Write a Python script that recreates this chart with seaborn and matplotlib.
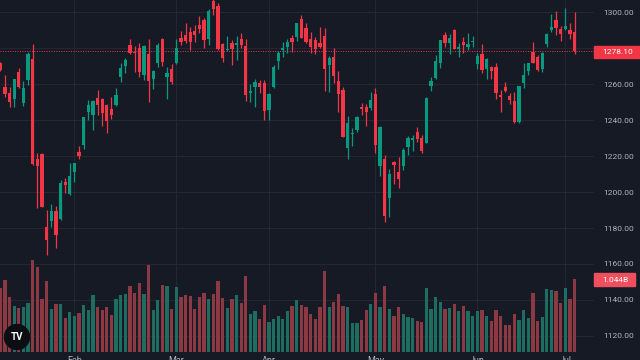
import numpy as np
import pandas as pd
import matplotlib
matplotlib.use("Agg")
import matplotlib.pyplot as plt
import seaborn as sns
from matplotlib.patches import Rectangle, Ellipse

# daily OHLC
opens = [1271.9, 1258.5, 1255.2, 1251.7, 1266.7, 1249.6, 1262.2, 1273.9, 1218.1, 1221.1,
         1180.4, 1184.1, 1189.6, 1185.2, 1205.7, 1198.7, 1211.1, 1222.0, 1226.1, 1244.6,
         1243.0, 1252.4, 1251.7, 1248.1, 1246.1, 1248.1, 1264.1, 1270.0, 1281.7, 1278.0,
         1280.2, 1265.0, 1276.5, 1262.8, 1271.9, 1284.8, 1264.1, 1268.3, 1271.5, 1285.6,
         1287.2, 1288.7, 1289.4, 1292.8, 1295.6, 1284.8, 1306.1, 1303.5, 1282.0, 1278.9,
         1283.0, 1281.7, 1285.0, 1281.1, 1255.2, 1258.5, 1260.7, 1260.4, 1245.6, 1258.1,
         1272.8, 1278.7, 1280.7, 1285.7, 1286.3, 1295.9, 1291.3, 1284.8, 1284.3, 1283.0,
         1286.7, 1270.6, 1275.2, 1261.7, 1256.7, 1224.6, 1232.4, 1234.4, 1247.4, 1247.0,
         1246.9, 1254.4, 1214.6, 1218.3, 1196.7, 1216.5, 1211.1, 1214.4, 1225.2, 1229.1,
         1233.5, 1230.0, 1227.4, 1258.9, 1263.1, 1271.9, 1287.4, 1283.0, 1290.0, 1279.4,
         1283.3, 1280.7, 1283.3, 1270.9, 1276.7, 1268.1, 1269.6, 1269.6, 1254.1, 1258.1,
         1253.3, 1250.7, 1239.1, 1260.7, 1267.4, 1278.0, 1275.2, 1268.1, 1282.2, 1289.8,
         1295.6, 1290.4, 1290.4, 1290.0, 1288.7]
highs = [1272.5, 1265.0, 1258.1, 1263.0, 1268.9, 1261.9, 1278.0, 1282.2, 1221.9, 1221.5,
         1190.0, 1193.3, 1192.2, 1206.7, 1208.0, 1215.9, 1216.3, 1225.6, 1241.9, 1251.1,
         1251.1, 1256.7, 1252.0, 1248.9, 1252.6, 1257.8, 1271.9, 1274.3, 1285.0, 1281.1,
         1283.0, 1281.7, 1285.0, 1267.6, 1282.6, 1285.6, 1269.3, 1271.1, 1284.8, 1289.4,
         1294.1, 1291.9, 1292.8, 1297.8, 1296.5, 1301.5, 1307.0, 1305.2, 1283.0, 1286.7,
         1284.4, 1286.9, 1288.1, 1284.8, 1260.0, 1262.8, 1262.2, 1262.2, 1254.8, 1270.4,
         1278.3, 1283.3, 1285.0, 1287.2, 1294.1, 1298.3, 1293.7, 1288.7, 1286.3, 1291.5,
         1291.1, 1275.6, 1279.8, 1267.4, 1258.1, 1242.2, 1235.4, 1242.0, 1249.3, 1248.7,
         1255.4, 1257.6, 1236.5, 1220.6, 1213.0, 1217.2, 1219.4, 1224.3, 1231.1, 1231.5,
         1236.3, 1231.5, 1252.8, 1263.7, 1276.1, 1284.6, 1288.7, 1287.6, 1290.4, 1283.0,
         1285.9, 1288.1, 1286.7, 1277.0, 1282.2, 1274.3, 1270.2, 1271.9, 1256.7, 1261.1,
         1254.8, 1255.6, 1259.0, 1271.9, 1271.9, 1283.5, 1276.1, 1278.0, 1288.5, 1298.9,
         1300.6, 1292.2, 1302.4, 1293.7, 1299.8]
lows = [1267.0, 1253.0, 1247.0, 1247.4, 1258.0, 1247.8, 1259.4, 1215.0, 1191.1, 1191.5,
        1165.0, 1180.4, 1168.7, 1184.4, 1199.3, 1198.5, 1205.7, 1218.1, 1223.7, 1240.0,
        1234.4, 1242.8, 1236.7, 1233.0, 1240.4, 1247.8, 1261.3, 1266.3, 1276.7, 1266.9,
        1263.7, 1262.2, 1250.2, 1257.2, 1269.3, 1270.2, 1251.7, 1260.0, 1271.1, 1281.7,
        1283.0, 1278.9, 1283.5, 1288.1, 1279.8, 1281.7, 1298.3, 1279.0, 1272.4, 1278.5,
        1270.6, 1273.3, 1279.8, 1250.7, 1250.2, 1247.4, 1255.2, 1240.0, 1240.0, 1257.8,
        1268.3, 1274.8, 1277.0, 1278.0, 1284.1, 1285.5, 1283.0, 1277.4, 1276.5, 1279.8,
        1256.3, 1255.7, 1260.7, 1244.6, 1230.5, 1218.1, 1225.6, 1233.5, 1242.8, 1236.7,
        1245.6, 1221.9, 1209.1, 1183.5, 1185.9, 1204.4, 1202.4, 1212.2, 1220.6, 1222.8,
        1228.0, 1221.5, 1227.2, 1256.3, 1262.8, 1268.7, 1280.7, 1276.7, 1279.3, 1274.8,
        1277.0, 1278.9, 1280.4, 1268.3, 1266.3, 1262.8, 1262.8, 1251.5, 1244.6, 1255.7,
        1248.9, 1238.5, 1238.5, 1257.6, 1265.0, 1271.7, 1267.4, 1266.9, 1280.7, 1289.1,
        1287.2, 1284.1, 1290.0, 1285.2, 1276.7]
closes = [1267.8, 1254.4, 1250.2, 1262.6, 1258.1, 1258.0, 1276.7, 1215.6, 1214.6, 1191.9,
          1173.3, 1189.6, 1175.9, 1205.2, 1203.7, 1208.9, 1215.9, 1220.2, 1241.5, 1248.5,
          1250.4, 1248.1, 1244.1, 1239.6, 1242.6, 1254.1, 1268.9, 1273.1, 1277.4, 1277.0,
          1266.9, 1281.1, 1261.7, 1267.4, 1281.7, 1272.2, 1266.1, 1260.9, 1279.8, 1283.5,
          1284.1, 1283.5, 1287.4, 1290.4, 1284.4, 1300.6, 1301.5, 1279.4, 1274.6, 1279.6,
          1279.3, 1282.6, 1281.7, 1253.9, 1256.3, 1260.9, 1258.5, 1245.0, 1254.4, 1269.6,
          1277.0, 1280.0, 1283.1, 1283.5, 1293.7, 1285.7, 1283.5, 1280.7, 1279.6, 1280.7,
          1268.3, 1274.6, 1264.4, 1254.3, 1230.7, 1238.1, 1232.8, 1241.9, 1246.3, 1244.3,
          1251.1, 1226.1, 1236.1, 1186.7, 1210.0, 1215.2, 1207.2, 1223.3, 1230.0, 1230.2,
          1229.3, 1222.8, 1252.2, 1261.7, 1272.8, 1284.4, 1282.6, 1285.6, 1279.6, 1280.7,
          1281.5, 1282.0, 1283.7, 1275.6, 1267.8, 1273.7, 1267.2, 1254.8, 1253.0, 1255.9,
          1251.1, 1238.7, 1258.9, 1265.0, 1271.5, 1271.9, 1267.8, 1277.0, 1287.8, 1291.5,
          1290.9, 1287.8, 1292.4, 1287.8, 1278.1]
# volume in billions
volumes = [0.92, 1.03, 0.79, 0.66, 0.63, 0.65, 0.70, 1.31, 1.21, 0.76,
           1.02, 0.62, 0.68, 0.69, 0.49, 0.57, 0.52, 0.56, 0.67, 0.60,
           0.82, 0.64, 0.60, 0.64, 0.53, 0.76, 0.81, 0.83, 0.95, 0.84,
           0.99, 0.83, 1.24, 0.60, 0.74, 0.96, 0.95, 0.62, 0.93, 0.79,
           0.81, 0.80, 0.61, 0.78, 0.85, 0.76, 0.83, 1.01, 0.77, 0.63,
           0.76, 0.82, 0.70, 1.09, 0.55, 0.59, 0.47, 0.67, 0.43, 0.47,
           0.51, 0.47, 0.59, 0.66, 0.75, 0.67, 0.64, 0.55, 0.47, 0.64,
           1.16, 0.65, 0.72, 0.83, 0.66, 0.65, 0.42, 0.42, 0.46, 0.60,
           0.69, 0.85, 0.65, 0.94, 0.61, 0.51, 0.64, 0.54, 0.50, 0.49,
           0.44, 0.43, 0.91, 0.61, 0.78, 0.72, 0.61, 0.63, 0.69, 0.59,
           0.66, 0.59, 0.51, 0.59, 0.60, 0.52, 0.44, 0.60, 0.52, 0.39,
           0.39, 0.55, 0.46, 0.60, 0.48, 0.84, 0.45, 0.50, 0.90, 0.88,
           0.87, 0.70, 0.92, 0.76, 1.044]

month_pos = [16, 38, 58, 81, 103, 122]
month_labels = ["Feb", "Mar", "Apr", "May", "Jun", "Jul"]
price_ticks = [1120, 1140, 1160, 1180, 1200, 1220, 1240, 1260, 1280, 1300]
last_price = 1278.10
last_volume_label = "1.044B"

BG = "#161a25"
GRID = "#232733"
UP = "#089981"
DOWN = "#f23645"
UP_VOL = "#1e6d61"
DOWN_VOL = "#8c3944"
TXT = "#b2b5be"

sns.set_theme(style="dark", rc={"axes.facecolor": BG, "figure.facecolor": BG,
                                "axes.edgecolor": BG, "savefig.facecolor": BG})
plt.rcParams['font.family'] = ['Roboto', 'DejaVu Sans']

df = pd.DataFrame({"open": opens, "high": highs, "low": lows, "close": closes, "volume": volumes})
df["idx"] = np.arange(len(df))
df["dir"] = np.where(df["close"] >= df["open"], "up", "down")

W, H = 640, 360
fig = plt.figure(figsize=(6.4, 3.6), dpi=100)
rect = [0, 8 / H, 594 / W, 352 / H]
ax_grid = fig.add_axes(rect)   # grid at the back
ax_vol = fig.add_axes(rect)    # volume in the middle
ax = fig.add_axes(rect)        # candles on top
ax_vol.patch.set_visible(False)
ax.patch.set_visible(False)

xlim = (-0.065, 128.18)
ylim = (1111.1, 1306.7)

# grid
for p in price_ticks:
    ax_grid.axhline(p, color=GRID, linewidth=0.8)
for m in month_pos:
    ax_grid.axvline(m, color=GRID, linewidth=0.8)
ax_grid.set_xlim(*xlim)
ax_grid.set_ylim(*ylim)
ax_grid.set_xticks([])
ax_grid.set_yticks([])

# volume
sns.barplot(data=df, x="idx", y="volume", hue="dir", palette={"up": UP_VOL, "down": DOWN_VOL},
            native_scale=True, dodge=False, width=0.7, saturation=1, errorbar=None,
            legend=False, edgecolor="none", linewidth=0, ax=ax_vol)
ax_vol.set_ylim(0, 5.035)
ax_vol.set_xticks([])
ax_vol.set_yticks([])
ax_vol.set_xlabel("")
ax_vol.set_ylabel("")

# candles
cols = np.where(df["dir"] == "up", UP, DOWN)
ax.vlines(df["idx"], df["low"], df["high"], colors=cols, linewidth=0.9, zorder=3)
body_lo = np.minimum(df["open"], df["close"])
body_h = np.maximum(np.abs(df["close"] - df["open"]), 0.55)
ax.bar(df["idx"], body_h, bottom=body_lo, width=0.7, color=cols, linewidth=0, zorder=4)

ax.axhline(last_price, color=DOWN, linestyle=(0, (1, 1.5)), linewidth=0.7, zorder=2)

for a in (ax, ax_vol, ax_grid):
    a.set_xlim(*xlim)
    for s in a.spines.values():
        s.set_visible(False)
ax.set_ylim(*ylim)

# price axis on the right; the 1280 label sits under the last-price tag
ax.yaxis.tick_right()
ax.set_yticks(price_ticks)
ax.set_yticklabels(["" if p == 1280 else f"{p:.2f}" for p in price_ticks])
ax.tick_params(axis="y", length=0, pad=6.5, labelsize=6, labelcolor=TXT)
ax.set_xticks(month_pos)
ax.set_xticklabels(month_labels)
ax.tick_params(axis="x", length=0, pad=3, labelsize=6.5, labelcolor=TXT)

# last price / volume tags
fig.add_artist(Rectangle((594 / W, 1 - 58 / H), 46 / W, 12 / H, transform=fig.transFigure,
                         color=DOWN, zorder=5))
fig.text(618 / W, 1 - 52 / H, f"{last_price:.2f}", color="white", fontsize=6,
         ha="center", va="center", zorder=6)
fig.add_artist(Rectangle((594 / W, 1 - 286 / H), 41 / W, 13 / H, transform=fig.transFigure,
                         color="#f0505e", zorder=5))
fig.text(615 / W, 1 - 279.5 / H, last_volume_label, color="white", fontsize=6,
         ha="center", va="center", zorder=6)

# logo badge
fig.add_artist(Ellipse((17 / W, 1 - 337 / H), 25 / W, 25 / H, transform=fig.transFigure,
                       color="#0c0e14", zorder=5))
fig.text(17 / W, 1 - 337 / H, "TV", color="white", fontsize=7, fontweight="bold",
         ha="center", va="center", zorder=6)

fig.savefig("out.png", dpi=100, facecolor=BG)
